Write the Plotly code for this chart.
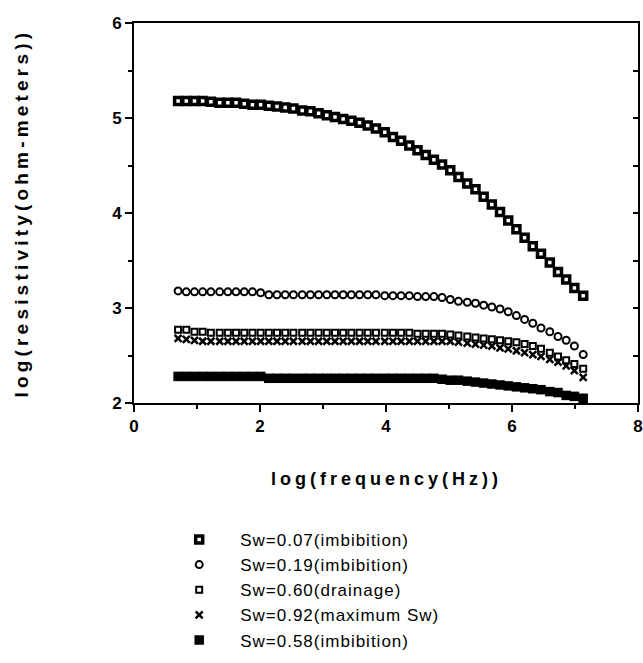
import plotly.graph_objects as go

log_freq = [0.70, 0.83, 0.96, 1.09, 1.22, 1.36, 1.49, 1.62, 1.75, 1.88,
            2.01, 2.14, 2.27, 2.40, 2.53, 2.67, 2.80, 2.93, 3.06, 3.19,
            3.32, 3.45, 3.58, 3.71, 3.84, 3.98, 4.11, 4.24, 4.37, 4.50,
            4.63, 4.76, 4.89, 5.02, 5.15, 5.29, 5.42, 5.55, 5.68, 5.81,
            5.94, 6.07, 6.20, 6.33, 6.46, 6.60, 6.73, 6.86, 6.99, 7.13]

sw007_imb = [5.18, 5.18, 5.18, 5.18, 5.17, 5.16, 5.16, 5.16, 5.15, 5.14,
             5.14, 5.13, 5.12, 5.11, 5.10, 5.08, 5.07, 5.05, 5.03, 5.01,
             4.99, 4.97, 4.95, 4.92, 4.89, 4.85, 4.80, 4.76, 4.71, 4.66,
             4.61, 4.56, 4.51, 4.45, 4.38, 4.31, 4.25, 4.17, 4.09, 4.01,
             3.92, 3.83, 3.74, 3.65, 3.57, 3.48, 3.38, 3.30, 3.21, 3.13]

sw019_imb = [3.18, 3.17, 3.17, 3.17, 3.17, 3.17, 3.17, 3.17, 3.17, 3.17,
             3.16, 3.14, 3.14, 3.14, 3.14, 3.14, 3.14, 3.14, 3.14, 3.14,
             3.14, 3.14, 3.14, 3.14, 3.14, 3.13, 3.13, 3.13, 3.13, 3.12,
             3.12, 3.12, 3.11, 3.09, 3.07, 3.06, 3.05, 3.03, 3.01, 2.99,
             2.96, 2.92, 2.88, 2.84, 2.79, 2.75, 2.70, 2.66, 2.60, 2.51]

sw060_dra = [2.77, 2.77, 2.75, 2.75, 2.74, 2.74, 2.74, 2.74, 2.74, 2.74,
             2.74, 2.74, 2.74, 2.74, 2.74, 2.74, 2.74, 2.74, 2.74, 2.74,
             2.74, 2.74, 2.74, 2.74, 2.74, 2.74, 2.74, 2.74, 2.74, 2.73,
             2.73, 2.73, 2.73, 2.72, 2.71, 2.70, 2.69, 2.68, 2.67, 2.66,
             2.65, 2.64, 2.62, 2.60, 2.57, 2.53, 2.49, 2.45, 2.41, 2.36]

sw092_max = [2.68, 2.67, 2.66, 2.65, 2.65, 2.65, 2.65, 2.65, 2.65, 2.65,
             2.65, 2.65, 2.65, 2.65, 2.65, 2.65, 2.65, 2.65, 2.65, 2.65,
             2.65, 2.65, 2.65, 2.65, 2.65, 2.65, 2.65, 2.65, 2.65, 2.65,
             2.65, 2.65, 2.65, 2.65, 2.64, 2.63, 2.62, 2.61, 2.60, 2.58,
             2.57, 2.55, 2.53, 2.51, 2.49, 2.46, 2.43, 2.39, 2.34, 2.27]

sw058_imb = [2.28, 2.28, 2.28, 2.28, 2.28, 2.28, 2.28, 2.28, 2.28, 2.28,
             2.28, 2.26, 2.26, 2.26, 2.26, 2.26, 2.26, 2.26, 2.26, 2.26,
             2.26, 2.26, 2.26, 2.26, 2.26, 2.26, 2.26, 2.26, 2.26, 2.26,
             2.26, 2.26, 2.25, 2.24, 2.24, 2.23, 2.22, 2.21, 2.20, 2.19,
             2.18, 2.17, 2.16, 2.15, 2.14, 2.12, 2.11, 2.08, 2.07, 2.05]

labels = ["Sw=0.07(imbibition)", "Sw=0.19(imbibition)", "Sw=0.60(drainage)",
          "Sw=0.92(maximum Sw)", "Sw=0.58(imbibition)"]


def spaced(t, px):
    return f"<span style='letter-spacing:{px}px'>{t}</span>"


FONT = "Liberation Sans, Arial, Helvetica, sans-serif"
fig = go.Figure()

fig.add_trace(go.Scatter(x=log_freq, y=sw058_imb, mode="markers", name=spaced(labels[4], 1),
                         marker=dict(symbol="square", size=9.5, color="black",
                                     line=dict(color="black", width=0))))
fig.add_trace(go.Scatter(x=log_freq, y=sw092_max, mode="markers", name=spaced(labels[3], 1),
                         marker=dict(symbol="x-thin", size=7, color="black",
                                     line=dict(color="black", width=2.5))))
fig.add_trace(go.Scatter(x=log_freq, y=sw060_dra, mode="markers", name=spaced(labels[2], 1),
                         marker=dict(symbol="square", size=6, color="white",
                                     line=dict(color="black", width=2))))
fig.add_trace(go.Scatter(x=log_freq, y=sw019_imb, mode="markers", name=spaced(labels[1], 1),
                         marker=dict(symbol="circle", size=7, color="white",
                                     line=dict(color="black", width=2))))
fig.add_trace(go.Scatter(x=log_freq, y=sw007_imb, mode="markers", name=spaced(labels[0], 1),
                         marker=dict(symbol="square", size=7, color="white",
                                     line=dict(color="black", width=3.5))))

# invisible trace to carry the right-hand axis
fig.add_trace(go.Scatter(x=[None], y=[None], yaxis="y2", showlegend=False, hoverinfo="skip"))

fig.update_layout(
    width=643, height=663,
    margin=dict(l=134, r=5, t=23, b=258),
    paper_bgcolor="white", plot_bgcolor="white",
    font=dict(family=FONT, color="black"),
    showlegend=True,
    legend=dict(x=0.048, y=-0.313, xanchor="left", yanchor="top", itemwidth=72,
                traceorder="reversed", font=dict(size=17, family=FONT),
                bgcolor="rgba(0,0,0,0)", tracegroupgap=0),
    xaxis=dict(range=[0, 8], tickvals=[0, 2, 4, 6, 8], showgrid=False, zeroline=False,
               automargin=False,
               showline=True, linecolor="black", linewidth=2, mirror=True,
               ticks="outside", ticklen=7, tickwidth=2, tickcolor="black",
               minor=dict(dtick=1, ticks="outside", ticklen=4, tickwidth=2, tickcolor="black", showgrid=False),
               tickfont=dict(size=17, family=FONT, weight="bold")),
    yaxis=dict(range=[2, 6], tickvals=[2, 3, 4, 5, 6], showgrid=False, zeroline=False,
               automargin=False,
               showline=True, linecolor="black", linewidth=2, mirror=True,
               ticks="outside", ticklen=7, tickwidth=2, tickcolor="black",
               minor=dict(dtick=0.5, ticks="outside", ticklen=4, tickwidth=2, tickcolor="black", showgrid=False),
               tickfont=dict(size=17, family=FONT, weight="bold")),
    yaxis2=dict(range=[2, 6], overlaying="y", side="right", showgrid=False, zeroline=False,
                automargin=False,
                showticklabels=False, dtick=0.5, ticks="inside", ticklen=5, tickwidth=1.5,
                tickcolor="black", showline=False),
    annotations=[
        dict(text=spaced("log(frequency(Hz))", 4),
             x=0.5, y=-0.2, xref="paper", yref="paper",
             showarrow=False, xanchor="center", yanchor="middle",
             font=dict(size=18, family=FONT, weight="bold")),
        dict(text=spaced("log(resistivity(ohm-meters))", 4.2),
             x=-0.225, y=0.5, xref="paper", yref="paper",
             showarrow=False, textangle=-90, xanchor="center", yanchor="middle",
             font=dict(size=19, family=FONT, weight="bold")),
    ],
)

fig.write_html("out.html", config={"displayModeBar": False},
               post_script="document.body.style.margin='0';document.body.style.overflow='hidden';")
